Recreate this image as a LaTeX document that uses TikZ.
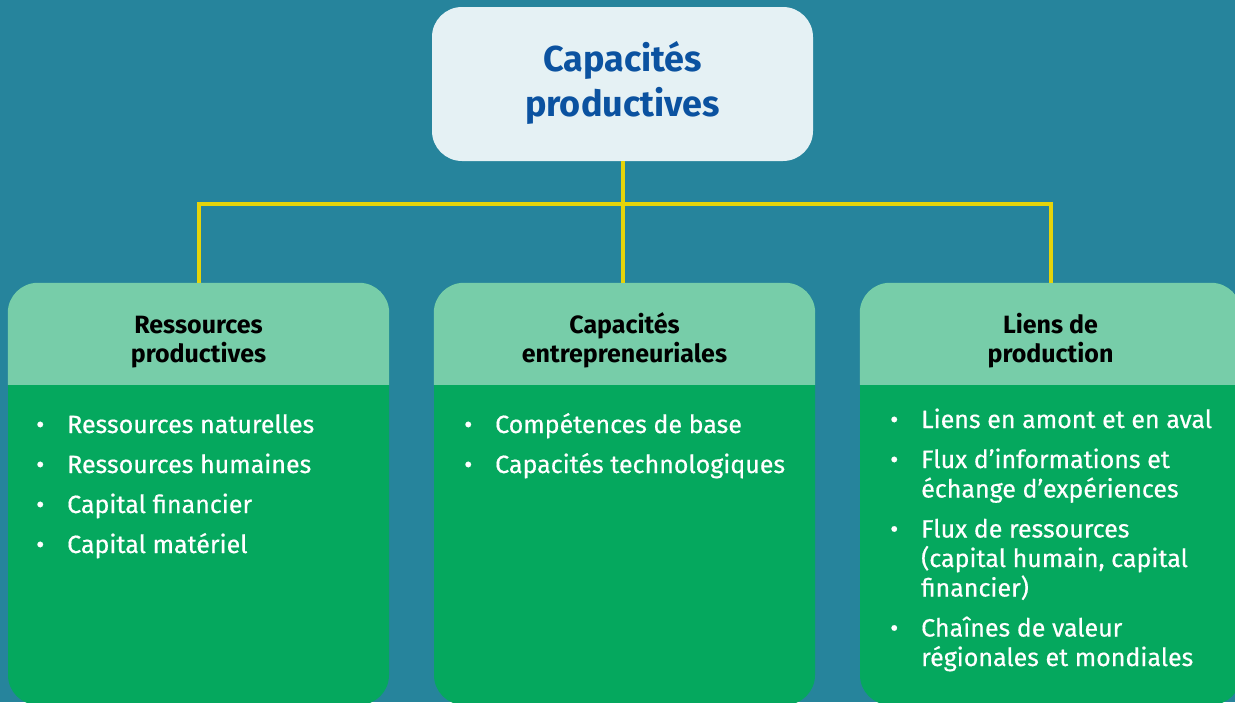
\documentclass[tikz,border=0pt]{standalone}
\usepackage{fontspec}
\setmainfont{Fira Sans}
\newfontfamily\listfont[FakeBold=0.5]{Fira Sans}
\definecolor{bg}{HTML}{26849C}
\definecolor{topfill}{HTML}{E5F1F4}
\definecolor{titleblue}{HTML}{0B52A0}
\definecolor{headfill}{HTML}{77CDA9}
\definecolor{bodyfill}{HTML}{05A85E}
\definecolor{linkyellow}{HTML}{E5D40A}
\newcommand\bitem[1]{\par\noindent\hangindent=31pt\hangafter=1\makebox[31pt][l]{•}#1}
\newcommand\blist[1]{\parbox[t]{340pt}{\raggedright\listfont\fontsize{25}{29.5}\selectfont\setlength\parskip{10.5pt}#1}}
\newcommand\twoline[2]{\begin{tabular}[t]{@{}c@{}}#1\\#2\end{tabular}}
\begin{document}
\begin{tikzpicture}[x=1pt,y=-1pt,
  topbox/.style={fill=topfill, rounded corners=30pt, minimum width=381pt, minimum height=154pt, inner sep=0pt},
  titletext/.style={anchor=base, inner sep=0pt, text=titleblue, font=\bfseries\fontsize{36}{45}\selectfont},
  lowbox/.style={fill=bodyfill, rounded corners=30pt, minimum width=381pt, minimum height=422pt, inner sep=0pt},
  headtext/.style={anchor=base, inner sep=0pt, text=black, font=\bfseries\fontsize{25}{28.5}\selectfont},
  listtext/.style={anchor=base west, inner sep=0pt, text=white},
  conn/.style={draw=linkyellow, line width=4pt}
]
\fill[bg] (0,0) rectangle (1235,702);
\useasboundingbox (0,0) rectangle (1235,702);
\clip (0,0) rectangle (1235,702);

% top box
\node[topbox] (top) at (622.5,84) {};
\node[titletext] (title) at (622.5,71.7) {\twoline{Capacités}{productives}};

% lower boxes
\node[lowbox] (b1) at (198.5,494) {};
\node[lowbox] (b2) at (624.5,494) {};
\node[lowbox] (b3) at (1050.5,494) {};
\foreach \b in {b1,b2,b3}{
  \fill[headfill] ([yshift=-102pt]\b.north west) [rounded corners=30pt] -- (\b.north west) -- (\b.north east) [sharp corners] -- ([yshift=-102pt]\b.north east) -- cycle;
}

% connectors
\coordinate (j) at (622.5,204);
\coordinate (jl) at (j -| b1.north);
\coordinate (jr) at (j -| b3.north);
\draw[conn] (top.south) -- (j);
\draw[conn] (b1.north) -- (jl) -- (jr) -- (b3.north);
\draw[conn] (j) -- (j |- b2.north);

% headers
\node[headtext] (h1) at (198.5,333.3) {\twoline{Ressources}{productives}};
\node[headtext] (h2) at (624.5,333.3) {\twoline{Capacités}{entrepreneuriales}};
\node[headtext] (h3) at (1050.5,333.3) {\twoline{Liens de}{production}};

% lists
\node[listtext] (l1) at (36,433) {\blist{%
  \bitem{Ressources naturelles}
  \bitem{Ressources humaines}
  \bitem{Capital financier}
  \bitem{Capital matériel}}};
\node[listtext] (l2) at (464,433) {\blist{%
  \bitem{Compétences de base}
  \bitem{Capacités technologiques}}};
\node[listtext] (l3) at (890,428) {\blist{%
  \bitem{Liens en amont et en aval}
  \bitem{Flux d’informations et\newline échange d’expériences}
  \bitem{Flux de ressources\newline (capital humain, capital\newline financier)}
  \bitem{Chaînes de valeur\newline régionales et mondiales}}};
\end{tikzpicture}
\end{document}
